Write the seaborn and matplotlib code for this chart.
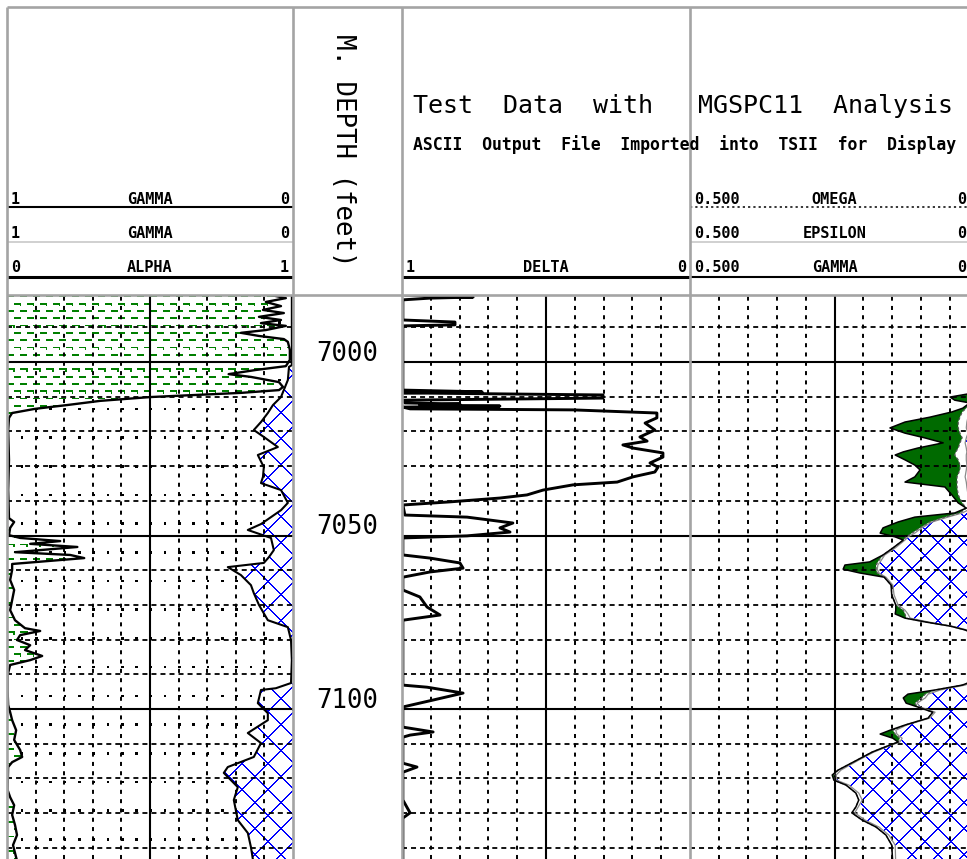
import numpy as np
import matplotlib
matplotlib.use("Agg")
import matplotlib.pyplot as plt
import seaborn as sns

# ---------------------------------------------------------------- data
depth_top, depth_bottom = 6980.7, 7143.2
depth_labels = [7000, 7050, 7100]

# Track 1 - GAMMA (scale 1 -> 0), shale fill from the left
t1_gamma_depth = [6980.7, 6981.6, 6982.7, 6983.9, 6985.0, 6985.9, 6987.0, 6987.9, 6988.8, 6989.6,
                  6990.8, 6991.6, 6992.5, 6993.4, 6994.2, 6996.5, 6999.4, 7001.2, 7002.3, 7003.5,
                  7004.3, 7005.8, 7007.2, 7008.1, 7008.9, 7010.1, 7011.2, 7012.4, 7013.5, 7014.7,
                  7016.1, 7019.6, 7028.2, 7036.9, 7045.0, 7046.1, 7047.8, 7049.9, 7050.7, 7051.6,
                  7052.4, 7053.3, 7054.2, 7054.8, 7055.6, 7056.5, 7057.3, 7058.2, 7059.9, 7062.8,
                  7065.7, 7068.6, 7071.5, 7074.4, 7076.7, 7077.5, 7078.7, 7080.1, 7081.6, 7083.0,
                  7084.7, 7085.9, 7087.3, 7090.2, 7094.5, 7098.8, 7100.9, 7103.2, 7106.1, 7108.9,
                  7111.8, 7113.8, 7115.3, 7116.7, 7123.3, 7125.4, 7127.7, 7130.5, 7133.4, 7136.3,
                  7139.2, 7145.0]
t1_gamma = [0.077, 0.025, 0.095, 0.042, 0.105, 0.032, 0.119, 0.042, 0.112, 0.025,
            0.095, 0.182, 0.119, 0.032, 0.018, 0.011, 0.011, 0.025, 0.130, 0.225,
            0.147, 0.049, 0.035, 0.049, 0.182, 0.498, 0.674, 0.789, 0.902, 0.982,
            0.993, 0.996, 0.993, 0.996, 0.993, 0.975, 0.989, 0.993, 0.954, 0.814,
            0.919, 0.754, 0.884, 0.972, 0.779, 0.730, 0.849, 0.982, 0.982, 0.989,
            0.975, 0.982, 0.989, 0.972, 0.937, 0.884, 0.954, 0.965, 0.919, 0.937,
            0.877, 0.919, 0.989, 0.998, 0.998, 0.996, 0.989, 0.982, 0.968, 0.975,
            0.954, 0.947, 0.982, 0.996, 0.998, 0.989, 0.975, 0.982, 0.972, 0.965,
            0.979, 0.961]

# Track 1 - ALPHA (scale 0 -> 1), cross-hatch fill to the right
t1_alpha_depth = [6980.7, 7000.9, 7001.4, 7005.2, 7010.1, 7012.4, 7014.7, 7017.3, 7019.6, 7021.6,
                  7024.5, 7026.8, 7030.3, 7033.1, 7034.9, 7036.9, 7040.6, 7042.7, 7044.7, 7046.7,
                  7048.4, 7050.7, 7054.2, 7056.2, 7057.9, 7059.1, 7061.4, 7064.3, 7066.6, 7070.0,
                  7074.4, 7076.4, 7080.1, 7085.9, 7092.5, 7094.0, 7094.5, 7098.3, 7101.2, 7103.2,
                  7106.9, 7109.8, 7113.8, 7116.7, 7118.4, 7122.5, 7126.2, 7132.0, 7135.7, 7139.8,
                  7145.0]
t1_alpha = [0.996, 0.996, 0.986, 0.982, 0.958, 0.930, 0.912, 0.888, 0.863, 0.898,
            0.947, 0.877, 0.898, 0.895, 0.888, 0.958, 0.982, 0.958, 0.923, 0.888,
            0.842, 0.923, 0.933, 0.916, 0.898, 0.772, 0.818, 0.853, 0.863, 0.881,
            0.912, 0.982, 0.993, 0.996, 0.993, 0.940, 0.888, 0.877, 0.912, 0.912,
            0.842, 0.888, 0.863, 0.772, 0.758, 0.807, 0.793, 0.807, 0.842, 0.853,
            0.863]

# Track 3 - DELTA (scale 1 -> 0)
t3_delta_depth = [6980.7, 6981.3, 6981.6, 6982.1, 6987.9, 6988.5, 6989.3, 6989.6, 7008.1, 7008.6,
                  7008.9, 7009.5, 7010.4, 7011.0, 7011.8, 7012.1, 7012.4, 7012.7, 7013.0, 7013.5,
                  7013.8, 7014.7, 7016.1, 7017.6, 7019.6, 7021.6, 7022.8, 7023.9, 7024.8, 7026.2,
                  7027.4, 7029.1, 7030.3, 7031.7, 7033.1, 7034.6, 7035.4, 7036.9, 7038.3, 7039.2,
                  7040.3, 7041.2, 7044.1, 7044.7, 7046.4, 7047.8, 7049.0, 7050.1, 7050.7, 7055.6,
                  7056.5, 7057.9, 7059.4, 7060.5, 7062.0, 7065.7, 7067.7, 7070.6, 7072.9, 7074.4,
                  7093.1, 7093.7, 7095.4, 7097.4, 7099.4, 7105.2, 7106.6, 7107.5, 7108.1, 7115.6,
                  7116.7, 7118.2, 7126.2, 7129.9, 7131.4, 7145.0]
t3_delta = [0.990, 0.753, 0.903, 0.997, 0.997, 0.816, 0.816, 0.997, 0.997, 0.722,
            0.997, 0.302, 0.302, 0.997, 0.990, 0.799, 0.938, 0.660, 0.997, 0.972,
            0.406, 0.115, 0.115, 0.156, 0.122, 0.174, 0.149, 0.233, 0.198, 0.094,
            0.094, 0.139, 0.111, 0.122, 0.198, 0.253, 0.406, 0.510, 0.566, 0.660,
            0.833, 0.997, 0.990, 0.774, 0.615, 0.660, 0.625, 0.774, 0.997, 0.997,
            0.903, 0.799, 0.788, 0.903, 0.997, 0.997, 0.938, 0.913, 0.868, 0.997,
            0.997, 0.913, 0.788, 0.892, 0.997, 0.997, 0.892, 0.972, 0.997, 0.997,
            0.948, 0.997, 0.997, 0.972, 0.997, 0.997]

# Track 4 - OMEGA / EPSILON / GAMMA (scale 0.5 -> 0)
t4_depth = [6980.7, 7008.1, 7009.2, 7010.1, 7011.0, 7011.8, 7013.3, 7014.4, 7015.9, 7017.3,
            7019.0, 7020.5, 7021.9, 7023.3, 7024.8, 7025.9, 7026.8, 7028.2, 7029.7, 7031.1,
            7033.1, 7034.6, 7036.0, 7038.3, 7040.6, 7042.1, 7043.5, 7044.7, 7046.1, 7047.8,
            7049.3, 7050.4, 7051.3, 7053.6, 7055.6, 7057.6, 7058.5, 7059.7, 7060.8, 7062.0,
            7064.3, 7067.1, 7070.0, 7071.5, 7072.6, 7073.8, 7074.9, 7076.1, 7077.2, 7078.7,
            7091.6, 7093.1, 7094.5, 7095.7, 7096.8, 7098.3, 7099.4, 7100.9, 7102.6, 7104.6,
            7106.1, 7107.2, 7108.4, 7109.5, 7111.0, 7112.4, 7114.7, 7117.6, 7119.0, 7120.5,
            7121.9, 7124.2, 7126.2, 7128.2, 7129.9, 7132.0, 7134.0, 7136.3, 7139.2, 7145.0]
t4_gamma = [0.005, 0.005, 0.019, 0.050, 0.042, 0.016, 0.028, 0.047, 0.085, 0.128,
            0.154, 0.128, 0.093, 0.062, 0.106, 0.131, 0.145, 0.128, 0.111, 0.102,
            0.111, 0.128, 0.059, 0.047, 0.036, 0.022, 0.042, 0.111, 0.140, 0.166,
            0.171, 0.145, 0.131, 0.149, 0.166, 0.189, 0.232, 0.235, 0.206, 0.164,
            0.152, 0.151, 0.144, 0.144, 0.145, 0.128, 0.093, 0.050, 0.024, 0.005,
            0.005, 0.029, 0.076, 0.123, 0.131, 0.126, 0.106, 0.080, 0.088, 0.128,
            0.154, 0.171, 0.149, 0.140, 0.164, 0.185, 0.211, 0.244, 0.254, 0.251,
            0.230, 0.213, 0.208, 0.213, 0.220, 0.202, 0.178, 0.161, 0.151, 0.149]
t4_omega = [0.005, 0.005, 0.012, 0.019, 0.019, 0.016, 0.022, 0.029, 0.033, 0.036,
            0.036, 0.033, 0.029, 0.033, 0.036, 0.040, 0.042, 0.036, 0.033, 0.033,
            0.038, 0.038, 0.038, 0.036, 0.029, 0.022, 0.033, 0.059, 0.085, 0.102,
            0.116, 0.126, 0.131, 0.149, 0.166, 0.175, 0.178, 0.178, 0.176, 0.164,
            0.152, 0.151, 0.144, 0.131, 0.128, 0.126, 0.093, 0.050, 0.024, 0.005,
            0.005, 0.029, 0.076, 0.093, 0.099, 0.111, 0.106, 0.080, 0.088, 0.128,
            0.149, 0.145, 0.137, 0.140, 0.164, 0.185, 0.211, 0.244, 0.251, 0.251,
            0.230, 0.213, 0.208, 0.213, 0.220, 0.202, 0.178, 0.161, 0.151, 0.149]
t4_epsilon = [0.005, 0.005, 0.005, 0.005, 0.005, 0.005, 0.005, 0.012, 0.019, 0.021,
              0.022, 0.019, 0.022, 0.024, 0.022, 0.021, 0.022, 0.022, 0.021, 0.022,
              0.024, 0.022, 0.021, 0.019, 0.016, 0.012, 0.029, 0.054, 0.081, 0.099,
              0.111, 0.123, 0.128, 0.145, 0.163, 0.171, 0.175, 0.176, 0.173, 0.161,
              0.149, 0.147, 0.140, 0.128, 0.123, 0.119, 0.088, 0.047, 0.021, 0.005,
              0.005, 0.024, 0.067, 0.088, 0.093, 0.107, 0.102, 0.076, 0.085, 0.125,
              0.144, 0.142, 0.133, 0.137, 0.161, 0.182, 0.208, 0.239, 0.247, 0.246,
              0.225, 0.208, 0.202, 0.209, 0.215, 0.197, 0.173, 0.156, 0.145, 0.144]

title = "Test  Data  with   MGSPC11  Analysis"
subtitle = "ASCII  Output  File  Imported  into  TSII  for  Display"
depth_header = "M. DEPTH (feet)"
t1_rows = [("1", "GAMMA", "0"), ("1", "GAMMA", "0"), ("0", "ALPHA", "1")]
t3_rows = [("1", "DELTA", "0")]
t4_rows = [("0.500", "OMEGA", "0"), ("0.500", "EPSILON", "0"), ("0.500", "GAMMA", "0")]
scale_gamma1 = (1.0, 0.0)
scale_alpha = (0.0, 1.0)
scale_delta = (1.0, 0.0)
scale_t4 = (0.5, 0.0)

# ---------------------------------------------------------------- style
sns.set_theme(style="white")
plt.rcParams["font.family"] = ["DejaVu Sans Mono", "DejaVu Sans"]
plt.rcParams["lines.scale_dashes"] = False

W, H = 967, 859
fig = plt.figure(figsize=(W / 100, H / 100), dpi=100)
fig.patch.set_facecolor("white")

X_T1 = (7, 293)
X_DEP = (293, 402)
X_T3 = (402, 690)
X_T4 = (690, 979)
Y_HEAD = 7
Y_DATA = 295
GREY = "#a4a4a4"


def add_px_axes(x0, x1, y0, y1):
    return fig.add_axes([x0 / W, 1 - y1 / H, (x1 - x0) / W, (y1 - y0) / H])


def frac(vals, scale):
    lo, hi = scale
    return (np.asarray(vals, float) - lo) / (hi - lo)


def setup(ax):
    ax.set_xlim(0, 1)
    ax.set_ylim(depth_bottom, depth_top)
    ax.set_xticks([])
    ax.set_yticks([])
    ax.set_xlabel("")
    ax.set_ylabel("")
    for s in ax.spines.values():
        s.set_visible(False)


def grid(ax):
    for f in np.arange(1, 10) / 10:
        if abs(f - 0.5) < 1e-9:
            ax.axvline(f, color="black", lw=1.5, zorder=4)
        else:
            ax.axvline(f, color="black", lw=1.4, linestyle=(0, (2.9, 3.8)), zorder=4)
    for d in np.arange(6990, 7150, 10):
        if d % 50 == 0:
            ax.axhline(d, color="black", lw=1.5, zorder=4)
        else:
            ax.axhline(d, color="black", lw=1.3, linestyle=(0, (3.6, 2.9)), zorder=4)


def pattern(ax, kind):
    bb = ax.get_window_extent()
    w, h = int(round(bb.width)), int(round(bb.height))
    yy, xx = np.mgrid[0:h, 0:w]
    img = np.zeros((h, w, 4))
    if kind == "cross":
        P = 26.0
        m = (np.mod(xx + yy, P) < 1.4) | (np.mod(xx - yy, P) < 1.4)
        img[m] = [0, 0, 1, 1]
    elif kind == "shale":
        rowh = 7.3
        ridx = np.floor(yy / rowh).astype(int)
        ry = np.mod(yy, rowh)
        xs = np.mod(xx + (ridx % 2) * 6.5, 13.0)
        dash = (ry < 1.8) & (xs < 7.0)
        tick = (ry < 3.6) & (xs >= 6.0) & (xs < 7.2) & (ridx % 3 == 1)
        img[dash | tick] = [0, 0.5, 0, 1]
    elif kind == "sand":
        m = (np.mod(xx + 1, 14.3) < 2.6) & (np.mod(yy - 26, 28.7) < 2.6)
        img[m] = [0, 0, 0, 1]
    return img


def pattern_fill(ax, depth, x1, x2, kind):
    poly = ax.fill_betweenx(depth, x1, x2, facecolor="none", edgecolor="none", linewidth=0)
    im = ax.imshow(pattern(ax, kind), extent=(0, 1, depth_bottom, depth_top),
                   aspect="auto", interpolation="nearest", origin="upper", zorder=1)
    im.set_clip_path(poly.get_paths()[0], transform=ax.transData)
    ax.set_xlim(0, 1)
    ax.set_ylim(depth_bottom, depth_top)


def curve(ax, x, depth, **kw):
    sns.lineplot(x=x, y=depth, sort=False, estimator=None, orient="y",
                 ax=ax, legend=False, zorder=5, **kw)


# ---------------------------------------------------------------- track 1
ax1 = add_px_axes(X_T1[0], X_T1[1], Y_DATA, H)
setup(ax1)
g1 = frac(t1_gamma, scale_gamma1)
a1 = frac(t1_alpha, scale_alpha)
pattern_fill(ax1, t1_gamma_depth, np.zeros_like(g1), g1, "shale")
dd = np.union1d(t1_gamma_depth, t1_alpha_depth)
gi = np.interp(dd, t1_gamma_depth, g1)
ai = np.interp(dd, t1_alpha_depth, a1)
pattern_fill(ax1, dd, gi, np.maximum(ai, gi), "sand")
pattern_fill(ax1, t1_alpha_depth, a1, np.ones_like(a1), "cross")
grid(ax1)
curve(ax1, g1, t1_gamma_depth, color="black", linewidth=1.7)
curve(ax1, a1, t1_alpha_depth, color="black", linewidth=1.5)
setup(ax1)

# ---------------------------------------------------------------- depth track
axd = add_px_axes(X_DEP[0], X_DEP[1], Y_DATA, H)
setup(axd)
for d in depth_labels:
    axd.text(0.5, d - 0.4, str(d), ha="center", va="baseline", fontsize=18.5,
             color="black")

# ---------------------------------------------------------------- track 3
ax3 = add_px_axes(X_T3[0], X_T3[1], Y_DATA, H)
setup(ax3)
grid(ax3)
curve(ax3, frac(t3_delta, scale_delta), t3_delta_depth, color="black", linewidth=2.1)
setup(ax3)

# ---------------------------------------------------------------- track 4
ax4 = add_px_axes(X_T4[0], X_T4[1], Y_DATA, H)
setup(ax4)
g4 = frac(t4_gamma, scale_t4)
o4 = frac(t4_omega, scale_t4)
e4 = frac(t4_epsilon, scale_t4)
ax4.fill_betweenx(t4_depth, g4, o4, where=g4 <= o4, interpolate=True,
                  facecolor="#006a00", edgecolor="none", linewidth=0, zorder=2)
pattern_fill(ax4, t4_depth, e4, np.ones_like(e4), "cross")
grid(ax4)
curve(ax4, e4, t4_depth, color="#8a8a8a", linewidth=0.9)
curve(ax4, o4, t4_depth, color="#555555", linewidth=0.9, linestyle=(0, (2.0, 1.5)))
curve(ax4, g4, t4_depth, color="black", linewidth=1.1)
setup(ax4)

# ---------------------------------------------------------------- overlay (headers, frame)
ov = fig.add_axes([0, 0, 1, 1])
ov.set_xlim(0, W)
ov.set_ylim(H, 0)
ov.axis("off")
ov.patch.set_visible(False)

# title block
ov.text(413, 113, title, fontsize=18, ha="left", va="baseline", color="black")
ov.text(413, 150, subtitle, fontsize=11.9, fontweight="bold", ha="left",
        va="baseline", color="black")
ov.text((X_DEP[0] + X_DEP[1]) / 2 - 4, 150, depth_header, fontsize=18.5, rotation=270,
        ha="center", va="center", color="black")

row_base = [204, 238, 272]
row_line = [207, 242, 277]


def header_rows(x0, x1, rows, start_row, styles, right_x=None):
    for i, (lft, mid, rgt) in enumerate(rows):
        r = start_row + i
        yb = row_base[r]
        kw = dict(fontsize=11, fontweight="bold", va="baseline", color="black")
        ov.text(x0 + 4, yb, lft, ha="left", **kw)
        ov.text((x0 + x1) / 2, yb, mid, ha="center", **kw)
        ov.text(right_x if right_x is not None else x1 - 4, yb, rgt, ha="right", **kw)
        ov.plot([x0, x1], [row_line[r], row_line[r]], **styles[i])


black2 = dict(color="black", lw=1.5, solid_capstyle="butt")
black3 = dict(color="black", lw=2.2, solid_capstyle="butt")
grey1 = dict(color="#c4c4c4", lw=1.1, solid_capstyle="butt")
dots = dict(color="black", lw=1.1, linestyle=(0, (1.6, 2.2)))

header_rows(X_T1[0], X_T1[1], t1_rows, 0, [black2, grey1, black3])
header_rows(X_T3[0], X_T3[1], t3_rows, 2, [black3])
header_rows(X_T4[0], X_T4[1], t4_rows, 0, [dots, grey1, black2], right_x=W - 1)

# frame and separators
for x in (X_T1[0], X_T1[1], X_DEP[1], X_T3[1]):
    ov.plot([x, x], [Y_HEAD, H], color=GREY, lw=1.9, solid_capstyle="butt")
ov.plot([X_T1[0], W], [Y_HEAD, Y_HEAD], color=GREY, lw=1.9, solid_capstyle="butt")
ov.plot([X_T1[0], W], [Y_DATA, Y_DATA], color=GREY, lw=1.9, solid_capstyle="butt")

fig.savefig("out.png", dpi=100, facecolor="white")
